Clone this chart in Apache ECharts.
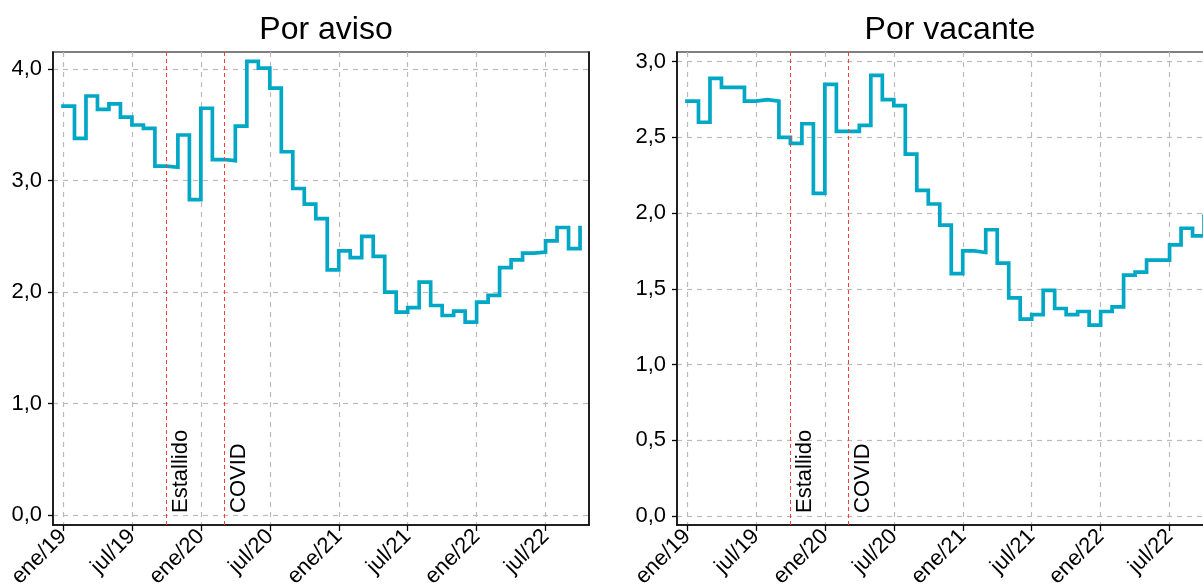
<!DOCTYPE html>
<html>
<head>
<meta charset="utf-8">
<script src="https://cdn.jsdelivr.net/npm/echarts@6/dist/echarts.min.js"></script>
<style>
  html, body { margin: 0; padding: 0; background: #fff; }
  #chart { width: 1203px; height: 587px; }
</style>
</head>
<body>
<div id="chart"></div>
<script>
// meses desde ene/19 (índice 0) hasta oct/22 (índice 45)
var porAviso = [3.67, 3.38, 3.76, 3.64, 3.69, 3.57, 3.50, 3.47, 3.13, 3.12, 3.41, 2.83,
  3.65, 3.19, 3.18, 3.49, 4.07, 4.01, 3.83, 3.26, 2.93, 2.79, 2.66, 2.20,
  2.37, 2.31, 2.50, 2.32, 2.00, 1.82, 1.86, 2.09, 1.88, 1.79, 1.83, 1.73,
  1.91, 1.97, 2.22, 2.29, 2.35, 2.36, 2.46, 2.58, 2.39, 2.58];
var porVacante = [2.74, 2.60, 2.89, 2.83, 2.83, 2.74, 2.75, 2.74, 2.50, 2.46, 2.59, 2.13,
  2.85, 2.54, 2.54, 2.58, 2.91, 2.75, 2.71, 2.39, 2.15, 2.06, 1.92, 1.60,
  1.75, 1.74, 1.89, 1.67, 1.44, 1.30, 1.33, 1.49, 1.37, 1.33, 1.35, 1.26,
  1.35, 1.38, 1.59, 1.61, 1.69, 1.69, 1.79, 1.90, 1.85, 1.98];
var tickIdx = [0, 6, 12, 18, 24, 30, 36, 42];
var tickLabels = ['ene/19', 'jul/19', 'ene/20', 'jul/20', 'ene/21', 'jul/21', 'ene/22', 'jul/22'];
var eventIdx = [9, 14];
var eventNames = ['Estallido', 'COVID'];
var yTicksAviso = [0, 1, 2, 3, 4];
var yTicksVacante = [0, 0.5, 1, 1.5, 2, 2.5, 3];

var FONT = 'Liberation Sans, Arial, sans-serif';
var myChart = echarts.init(document.getElementById('chart'));

function toPairs(arr) {
  return arr.map(function (v, i) { return [i, v]; });
}

function xAxisFor(gridIndex) {
  return {
    type: 'value', gridIndex: gridIndex, min: -0.87, max: 45.78,
    axisLine: { show: true, onZero: false, lineStyle: { color: '#000', width: 1.5 } },
    axisTick: { show: true, length: 6, customValues: tickIdx, lineStyle: { color: '#000', width: 1.3 } },
    axisLabel: {
      customValues: tickIdx, rotate: 45, margin: 8,
      fontSize: 22, fontFamily: FONT, color: '#000',
      formatter: function (v) { return tickLabels[tickIdx.indexOf(Math.round(v))] || ''; }
    },
    splitLine: { show: true, lineStyle: { color: '#bbbbbb', type: [5, 5], width: 1.2 } }
  };
}

function yAxisFor(gridIndex, min, max, ticks) {
  return {
    type: 'value', gridIndex: gridIndex, min: min, max: max,
    axisLine: { show: true, onZero: false, lineStyle: { color: '#000', width: 1.5 } },
    axisTick: { show: true, length: 5, customValues: ticks, lineStyle: { color: '#000', width: 1.3 } },
    axisLabel: {
      customValues: ticks, margin: 11, fontSize: 22, fontFamily: FONT, color: '#000',
      formatter: function (v) { return v.toFixed(1).replace('.', ','); }
    },
    splitLine: { show: true, lineStyle: { color: '#bbbbbb', type: [5, 5], width: 1.2 } }
  };
}

function eventLines() {
  return {
    silent: true,
    symbol: 'none',
    lineStyle: { color: '#ff3b3b', type: [4, 3], width: 1 },
    label: {
      show: true, position: 'insideStartBottom', distance: [12, 4],
      fontSize: 22, fontFamily: FONT, color: '#000',
      formatter: function (p) { return p.name; }
    },
    data: eventIdx.map(function (x, i) { return { name: eventNames[i], xAxis: x }; })
  };
}

function serie(idx, data) {
  return {
    type: 'line', xAxisIndex: idx, yAxisIndex: idx, step: 'end',
    data: toPairs(data), showSymbol: false, animation: false,
    lineStyle: { color: '#00a8c6', width: 3.7, cap: 'square', join: 'miter' },
    markLine: eventLines()
  };
}

var options = {
  animation: false,
  title: [
    { text: 'Por aviso', left: 321, top: 9, textAlign: 'center',
      textStyle: { fontSize: 32, fontWeight: 'normal', fontFamily: FONT, color: '#000' } },
    { text: 'Por vacante', left: 945, top: 9, textAlign: 'center',
      textStyle: { fontSize: 32, fontWeight: 'normal', fontFamily: FONT, color: '#000' } }
  ],
  grid: [
    { left: 53, top: 52, width: 536, height: 473, outerBoundsMode: 'none',
      show: true, borderColor: '#808080', borderWidth: 2 },
    { left: 677, top: 52, width: 536, height: 473, outerBoundsMode: 'none',
      show: true, borderColor: '#808080', borderWidth: 2 }
  ],
  xAxis: [xAxisFor(0), xAxisFor(1)],
  yAxis: [
    yAxisFor(0, -0.09, 4.155, yTicksAviso),
    yAxisFor(1, -0.06, 3.064, yTicksVacante),
    // borde derecho del primer panel
    { type: 'value', gridIndex: 0, position: 'right', min: -0.09, max: 4.155,
      axisLine: { show: true, onZero: false, lineStyle: { color: '#000', width: 1.5 } },
      axisTick: { show: false }, axisLabel: { show: false }, splitLine: { show: false } }
  ],
  series: [serie(0, porAviso), serie(1, porVacante)]
};

myChart.setOption(options);
</script>
</body>
</html>
